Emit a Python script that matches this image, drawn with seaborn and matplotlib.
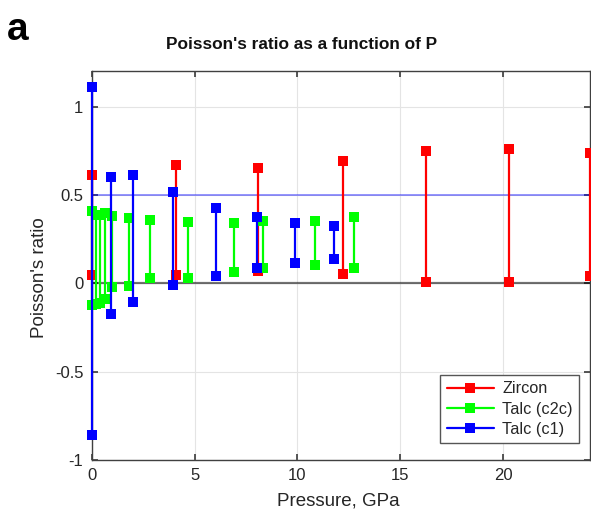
import numpy as np
import pandas as pd
import matplotlib
matplotlib.use("Agg")
import matplotlib.pyplot as plt
from matplotlib.lines import Line2D
from matplotlib.ticker import FuncFormatter
import seaborn as sns

# ---- data ----
series_names = ["Zircon", "Talc (c2c)", "Talc (c1)"]
series_colors = ["#ff0000", "#00ff00", "#0000ff"]

zircon_p = [0, 4.1, 8.1, 12.2, 16.25, 20.3, 24.2]
zircon_low = [0.047, 0.047, 0.07, 0.053, 0.009, 0.01, 0.04]
zircon_high = [0.613, 0.67, 0.651, 0.694, 0.75, 0.758, 0.74]

c2c_p = [0, 0.2, 0.4, 0.65, 1.0, 1.8, 2.85, 4.7, 6.9, 8.35, 10.85, 12.75]
c2c_low = [-0.12, -0.115, -0.11, -0.09, -0.02, -0.015, 0.028, 0.028, 0.062, 0.088, 0.104, 0.088]
c2c_high = [0.41, 0.385, 0.385, 0.40, 0.38, 0.372, 0.358, 0.345, 0.34, 0.352, 0.354, 0.373]

c1_p = [0, 0.92, 2.03, 3.97, 6.03, 8.03, 9.9, 11.8]
c1_low = [-0.86, -0.175, -0.104, -0.008, 0.041, 0.088, 0.113, 0.136]
c1_high = [1.11, 0.603, 0.613, 0.518, 0.424, 0.373, 0.343, 0.326]

x_ticks = [0, 5, 10, 15, 20]
y_ticks = [-1, -0.5, 0, 0.5, 1]

# ---- build long table ----
rows = []
for name, P, lo, hi in [(series_names[0], zircon_p, zircon_low, zircon_high),
                        (series_names[1], c2c_p, c2c_low, c2c_high),
                        (series_names[2], c1_p, c1_low, c1_high)]:
    for i, (p, l, h) in enumerate(zip(P, lo, hi)):
        uid = f"{name}_{i}"
        rows.append(dict(series=name, unit=uid, pressure=p, ratio=l))
        rows.append(dict(series=name, unit=uid, pressure=p, ratio=h))
df = pd.DataFrame(rows)

sns.set_theme(style="ticks")
plt.rcParams["font.family"] = ["Liberation Sans", "DejaVu Sans"]
plt.rcParams["axes.unicode_minus"] = False

fig = plt.figure(figsize=(5.91, 5.13), dpi=100)
ax = fig.add_axes([0.1552, 0.1033, 0.8423, 0.7577])

edge = "#404040"
txt = "#262626"

ax.axhline(0.5, color="#0000ff", alpha=0.45, lw=1.3, zorder=1)
ax.axhline(0, color="#000000", alpha=0.55, lw=1.6, zorder=1)

sns.lineplot(data=df, x="pressure", y="ratio", hue="series", units="unit",
             estimator=None, sort=False, hue_order=series_names,
             palette=series_colors, marker="s", markersize=7,
             markeredgewidth=0, lw=1.6, legend=False, ax=ax, zorder=3,
             clip_on=False)

ax.set_xlim(0, 24.2)
ax.set_ylim(-1, 1.2)
ax.set_xticks(x_ticks)
ax.set_yticks(y_ticks)
ax.yaxis.set_major_formatter(FuncFormatter(lambda v, p: f"{v:g}"))
ax.grid(True, color="#e4e4e4", lw=0.8, zorder=0)
ax.set_axisbelow(True)
for s in ax.spines.values():
    s.set_visible(True)
    s.set_color(edge)
    s.set_linewidth(1.0)
ax.tick_params(direction="in", length=4, top=True, right=True, color=edge,
               labelcolor=txt, labelsize=12, pad=6)

ax.set_xlabel("Pressure, GPa", fontsize=13.5, color=txt)
ax.set_ylabel("Poisson's ratio", fontsize=13.5, color=txt)
ax.xaxis.set_label_coords(0.495, -0.083)
ax.yaxis.set_label_coords(-0.087, 0.47)

handles = [Line2D([0], [0], color=c, lw=1.6, marker="s", markersize=7,
                  markeredgewidth=0) for c in series_colors]
leg = ax.legend(handles, series_names, loc="upper right",
                bbox_to_anchor=(0.979, 0.219), borderaxespad=0,
                fontsize=11.7, frameon=True, fancybox=False, framealpha=1,
                edgecolor="#555555", handlelength=2.9, borderpad=0.4,
                labelspacing=0.32, handletextpad=0.5)
leg.get_frame().set_linewidth(1.0)
for t in leg.get_texts():
    t.set_color(txt)

fig.text(0.511, 0.914, "Poisson's ratio as a function of P", ha="center",
         va="center", fontsize=12.4, fontweight="bold", color="#111111")
fig.text(0.012, 0.922, "a", ha="left", va="baseline", fontsize=28,
         fontweight="bold", color="#000000")

fig.savefig("out.png", dpi=100)
